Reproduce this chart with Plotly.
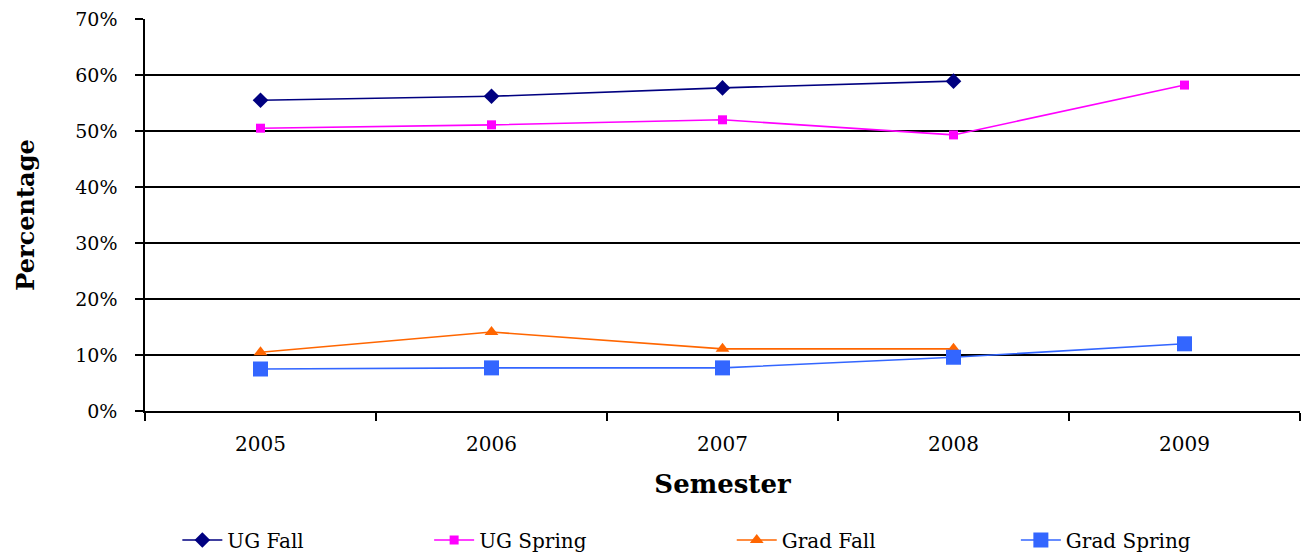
import plotly.graph_objects as go

years = ["2005", "2006", "2007", "2008", "2009"]
ug_fall = [55.5, 56.2, 57.7, 58.9, None]
ug_spring = [50.5, 51.1, 52.0, 49.3, 58.2]
grad_fall = [10.5, 14.1, 11.1, 11.1, None]
grad_spring = [7.5, 7.7, 7.7, 9.6, 12.0]
y_ticks = [0, 10, 20, 30, 40, 50, 60, 70]
y_tick_labels = ["0%", "10%", "20%", "30%", "40%", "50%", "60%", "70%"]

FONT = "DejaVu Serif"

fig = go.Figure()
series = [
    ("UG Fall", ug_fall, "#000080", "diamond", 12, "legend", 0.028),
    ("UG Spring", ug_spring, "#FF00FF", "square", 9, "legend2", 0.246),
    ("Grad Fall", grad_fall, "#FF6600", "triangle-up", 12, "legend3", 0.508),
    ("Grad Spring", grad_spring, "#3366FF", "square", 15, "legend4", 0.754),
]
legend_layout = {}
for name, vals, color, sym, size, leg, lx in series:
    fig.add_trace(go.Scatter(
        x=years, y=vals, name=name, mode="lines+markers",
        line=dict(color=color, width=1.6),
        marker=dict(symbol=sym, size=size, color=color),
        connectgaps=False, legend=leg,
    ))
    legend_layout[leg] = dict(
        orientation="h", x=lx, xanchor="left", y=-0.329, yanchor="middle",
        font=dict(family=FONT, size=20, color="black"),
        bgcolor="rgba(0,0,0,0)", itemwidth=40,
    )

fig.update_layout(
    width=1302, height=552,
    margin=dict(l=145, r=2, t=19, b=141, autoexpand=False),
    paper_bgcolor="white", plot_bgcolor="white",
    font=dict(family=FONT, color="black", size=18),
    showlegend=True,
    **legend_layout,
)
fig.update_xaxes(
    type="category", range=[-0.5, 4.5], automargin=False,
    showline=True, linecolor="black", linewidth=1.5,
    ticks="outside", tickson="boundaries", ticklen=8, tickcolor="black", tickwidth=1.5,
    showgrid=False, tickfont=dict(family=FONT, size=20),
    ticklabelstandoff=14,
    title=dict(text="<b>Semester</b>", font=dict(family=FONT, size=26), standoff=20),
)
fig.update_yaxes(
    range=[0, 70], tickvals=y_ticks, ticktext=y_tick_labels, automargin=False,
    showline=True, linecolor="black", linewidth=1.5,
    ticks="outside", ticklen=8, tickcolor="black", tickwidth=1.5,
    showgrid=True, gridcolor="black", gridwidth=1.5,
    zeroline=False, tickfont=dict(family=FONT, size=19),
    ticklabelstandoff=14,
    title=dict(text="<b>Percentage</b>", font=dict(family=FONT, size=24), standoff=34),
)

fig.write_html(
    "out.html",
    config={"displayModeBar": False},
    post_script="document.body.style.margin='0';document.body.style.overflow='hidden';",
)
